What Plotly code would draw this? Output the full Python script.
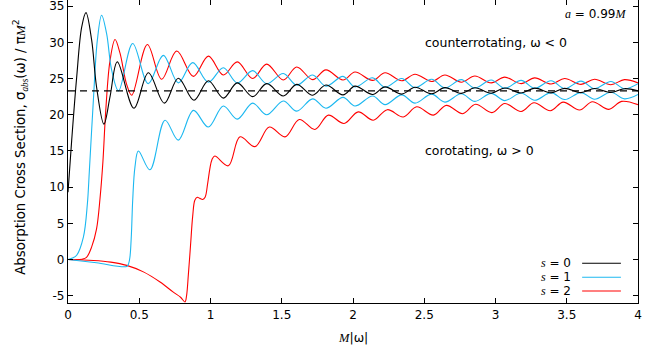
import plotly.graph_objects as go

# ---------------- data ----------------
# s = 0
x_s0 = [0, 0.026, 0.061, 0.096, 0.126, 0.166, 0.2, 0.252, 0.295, 0.346,
        0.463, 0.564, 0.676, 0.774, 0.884, 0.985,
        1.09, 1.188, 1.296, 1.394, 1.511, 1.605, 1.717, 1.81, 1.93, 2.014,
        2.138, 2.225, 2.342, 2.435, 2.552, 2.645, 2.76, 2.855, 2.97, 3.065,
        3.18, 3.275, 3.39, 3.485, 3.6, 3.695, 3.81, 3.905, 4.0]
y_s0 = [9.3, 16.5, 25.2, 32.1, 34.1, 30.3, 23.9, 18.7, 22.5, 27.3,
        20.9, 25.8, 21.6, 25.05, 22.0, 24.7,
        22.3, 24.4, 22.5, 24.3, 22.6, 24.2, 22.7, 24.1, 22.75, 23.95,
        22.8, 23.85, 22.85, 23.8, 22.9, 23.75, 22.95, 23.72, 22.98, 23.7,
        23.0, 23.68, 23.02, 23.65, 23.05, 23.62, 23.07, 23.6, 23.3]

# s = 1, counterrotating (omega < 0)
x_s1_counter = [0, 0.03, 0.061, 0.108, 0.136, 0.15, 0.178, 0.206, 0.236, 0.271,
                0.306, 0.355, 0.454, 0.563, 0.669, 0.774, 0.875, 0.985,
                1.09, 1.188, 1.296, 1.394, 1.511, 1.605, 1.717, 1.81, 1.93, 2.014,
                2.138, 2.225, 2.342, 2.435, 2.552, 2.645, 2.76, 2.855, 2.97, 3.065,
                3.18, 3.275, 3.39, 3.485, 3.6, 3.695, 3.81, 3.905, 4.0]
y_s1_counter = [0, 0.2, 0.6, 3.1, 7.7, 12.3, 22.0, 30.3, 33.75, 31.2,
                26.2, 23.3, 29.85, 24.3, 28.2, 24.4, 27.2, 24.5,
                26.5, 24.4, 26.1, 24.3, 25.7, 24.1, 25.5, 23.95, 25.3, 23.85,
                25.1, 23.8, 25.0, 23.75, 24.9, 23.7, 24.85, 23.7, 24.8, 23.65,
                24.75, 23.65, 24.7, 23.6, 24.65, 23.6, 24.6, 23.6, 24.3]

# s = 2, counterrotating (omega < 0)
x_s2_counter = [0, 0.1, 0.13, 0.166, 0.2, 0.225, 0.245, 0.265, 0.295, 0.33,
                0.365, 0.41, 0.447, 0.557, 0.657, 0.763, 0.88, 0.985,
                1.09, 1.188, 1.296, 1.394, 1.511, 1.605, 1.717, 1.81, 1.93, 2.014,
                2.138, 2.225, 2.342, 2.435, 2.552, 2.645, 2.76, 2.855, 2.97, 3.065,
                3.18, 3.275, 3.39, 3.485, 3.6, 3.695, 3.81, 3.905, 4.0]
y_s2_counter = [0, 0.05, 0.3, 1.75, 4.2, 8.5, 13.5, 20.6, 27.5, 30.4,
                28.5, 24.3, 22.7, 29.7, 24.9, 28.8, 25.3, 28.1,
                25.5, 27.3, 25.0, 27.0, 24.8, 26.6, 24.85, 26.2, 24.8, 25.9,
                24.75, 25.8, 24.7, 25.6, 24.6, 25.5, 24.5, 25.35, 24.4, 25.2,
                24.3, 25.1, 24.25, 25.0, 24.2, 24.9, 24.15, 24.85, 24.4]

# s = 1, corotating (omega > 0)
x_s1_co = [0, 0.2, 0.412, 0.425, 0.435, 0.445, 0.454, 0.47, 0.494, 0.575,
           0.681, 0.774, 0.88, 0.985,
           1.09, 1.188, 1.296, 1.394, 1.511, 1.605, 1.717, 1.81, 1.93, 2.014,
           2.138, 2.225, 2.342, 2.435, 2.552, 2.645, 2.76, 2.855, 2.97, 3.065,
           3.18, 3.275, 3.39, 3.485, 3.6, 3.695, 3.81, 3.905, 4.0]
y_s1_co = [0, -0.45, -0.95, -0.6, 0.4, 3.5, 8.2, 12.8, 15.0, 12.4,
           19.25, 16.5, 20.6, 18.3,
           21.2, 19.4, 21.6, 20.0, 21.9, 20.5, 22.2, 20.9, 22.4, 21.2,
           22.6, 21.4, 22.75, 21.6, 22.85, 21.75, 22.9, 21.85, 22.95, 21.95,
           23.0, 22.0, 23.05, 22.1, 23.05, 22.15, 23.1, 22.2, 22.8]

# s = 2, corotating (omega > 0)
x_s2_co = [0, 0.178, 0.3, 0.412, 0.529, 0.646, 0.739, 0.79, 0.821, 0.832,
           0.845, 0.86, 0.875, 0.89, 0.907, 0.925, 0.945, 0.962, 0.98, 0.995,
           1.01, 1.03, 1.125, 1.207, 1.312, 1.413, 1.523, 1.623, 1.733, 1.827,
           1.937, 2.037, 2.142, 2.241, 2.353, 2.447, 2.564, 2.655, 2.77, 2.86,
           2.975, 3.065, 3.18, 3.27, 3.385, 3.475, 3.59, 3.68, 3.795, 3.885, 4.0]
y_s2_co = [0, -0.12, -0.35, -0.8, -1.7, -3.1, -4.5, -5.2, -5.85, -5.0,
           -2.0, 2.0, 6.0, 8.2, 8.6, 8.45, 8.3, 8.6, 10.5, 12.5,
           13.8, 14.3, 12.95, 16.95, 15.6, 18.3, 16.95, 19.35, 17.97, 19.95,
           18.8, 20.4, 19.25, 20.7, 19.7, 21.1, 19.95, 21.3, 20.15, 21.45,
           20.3, 21.55, 20.45, 21.65, 20.55, 21.75, 20.65, 21.8, 20.75, 21.85, 21.4]

# geometric-optics limit (dashed)
x_geo = [0, 4]
y_geo = [23.3, 23.3]

x_ticks = [0, 0.5, 1, 1.5, 2, 2.5, 3, 3.5, 4]
x_tick_labels = ["0", "0.5", "1", "1.5", "2", "2.5", "3", "3.5", "4"]
y_ticks = [-5, 0, 5, 10, 15, 20, 25, 30, 35]
y_tick_labels = ["-5", "0", "5", "10", "15", "20", "25", "30", "35"]

legend_labels = ["0", "1", "2"]

# ---------------- styling ----------------
BLACK = "#000000"
CYAN = "#1cb8f0"
RED = "#ff0000"
FONT = "DejaVu Sans"


def serif_i(t):
    return "<span style='font-family:Liberation Serif'><i>%s</i></span>" % t


fig = go.Figure()


def add_curve(x, y, color):
    fig.add_trace(go.Scatter(x=x, y=y, mode="lines",
                             line=dict(color=color, width=1.1, shape="spline", smoothing=1.0),
                             showlegend=False, hoverinfo="skip"))


add_curve(x_s2_co, y_s2_co, RED)
add_curve(x_s2_counter, y_s2_counter, RED)
add_curve(x_s1_co, y_s1_co, CYAN)
add_curve(x_s1_counter, y_s1_counter, CYAN)
add_curve(x_s0, y_s0, BLACK)

fig.add_trace(go.Scatter(x=x_geo, y=y_geo, mode="lines",
                         line=dict(color=BLACK, width=1.1, dash="7px,5px"),
                         showlegend=False, hoverinfo="skip"))

# invisible trace for the top tick axis
fig.add_trace(go.Scatter(x=x_geo, y=y_geo, xaxis="x2", mode="lines",
                         line=dict(width=0), opacity=0, showlegend=False, hoverinfo="skip"))

axis_common = dict(showgrid=False, zeroline=False, ticks="inside", ticklen=5,
                   tickwidth=1, tickcolor=BLACK, linecolor=BLACK, linewidth=1.3,
                   automargin=False, ticklabeloverflow="allow",
                   tickfont=dict(family=FONT, size=12, color=BLACK))

fig.update_layout(
    template="none",
    width=667, height=356,
    margin=dict(l=68, r=29, t=0, b=53, autoexpand=False),
    paper_bgcolor="white", plot_bgcolor="white",
    font=dict(family=FONT, size=12, color=BLACK),
    xaxis=dict(range=[0, 4], tickvals=x_ticks, ticktext=x_tick_labels,
               showline=True, mirror=False, **axis_common),
    xaxis2=dict(range=[0, 4], overlaying="x", side="top", tickvals=x_ticks,
                showticklabels=False, showline=False, showgrid=False, zeroline=False,
                automargin=False,
                ticks="inside", ticklen=5, tickwidth=1, tickcolor=BLACK),
    yaxis=dict(range=[-6, 35.85], tickvals=y_ticks, ticktext=y_tick_labels,
               showline=True, mirror="ticks", **axis_common),
)

annotations = [
    dict(x=0.5, y=-0.115, xref="paper", yref="paper", xanchor="center", yanchor="middle",
         text=serif_i("M") + "|ω|", showarrow=False, font=dict(size=12.5)),
    dict(x=-0.084, y=0.516, xref="paper", yref="paper", xanchor="center", yanchor="middle",
         textangle=-90, showarrow=False, font=dict(size=13.3),
         text="Absorption Cross Section, σ<sub>" + serif_i("abs") + "</sub>(ω) / π" + serif_i("M") + "<sup>2</sup>"),
    dict(x=2.49, y=30, xref="x", yref="y", xanchor="left", yanchor="middle",
         text="counterrotating, ω < 0", showarrow=False, font=dict(size=12.5)),
    dict(x=2.49, y=15, xref="x", yref="y", xanchor="left", yanchor="middle",
         text="corotating, ω > 0", showarrow=False, font=dict(size=12.5)),
    dict(x=3.93, y=33.9, xref="x", yref="y", xanchor="right", yanchor="middle",
         text=serif_i("a") + " = 0.99" + serif_i("M"), showarrow=False, font=dict(size=12)),
]

legend_y = [0.131, 0.0848, 0.0396]
legend_colors = [BLACK, CYAN, RED]
shapes = []
for lab, ly, col in zip(legend_labels, legend_y, legend_colors):
    annotations.append(dict(x=0.886, y=ly, xref="paper", yref="paper", xanchor="right",
                            yanchor="middle", showarrow=False, font=dict(size=12),
                            text=serif_i("s") + " = " + lab))
    shapes.append(dict(type="line", xref="paper", yref="paper", x0=0.902, x1=0.970,
                       y0=ly, y1=ly, line=dict(color=col, width=1.1)))

fig.update_layout(annotations=annotations, shapes=shapes)

fig.write_html("out.html", config={"displayModeBar": False},
               post_script="document.body.style.margin='0px';document.body.style.overflow='hidden';")
